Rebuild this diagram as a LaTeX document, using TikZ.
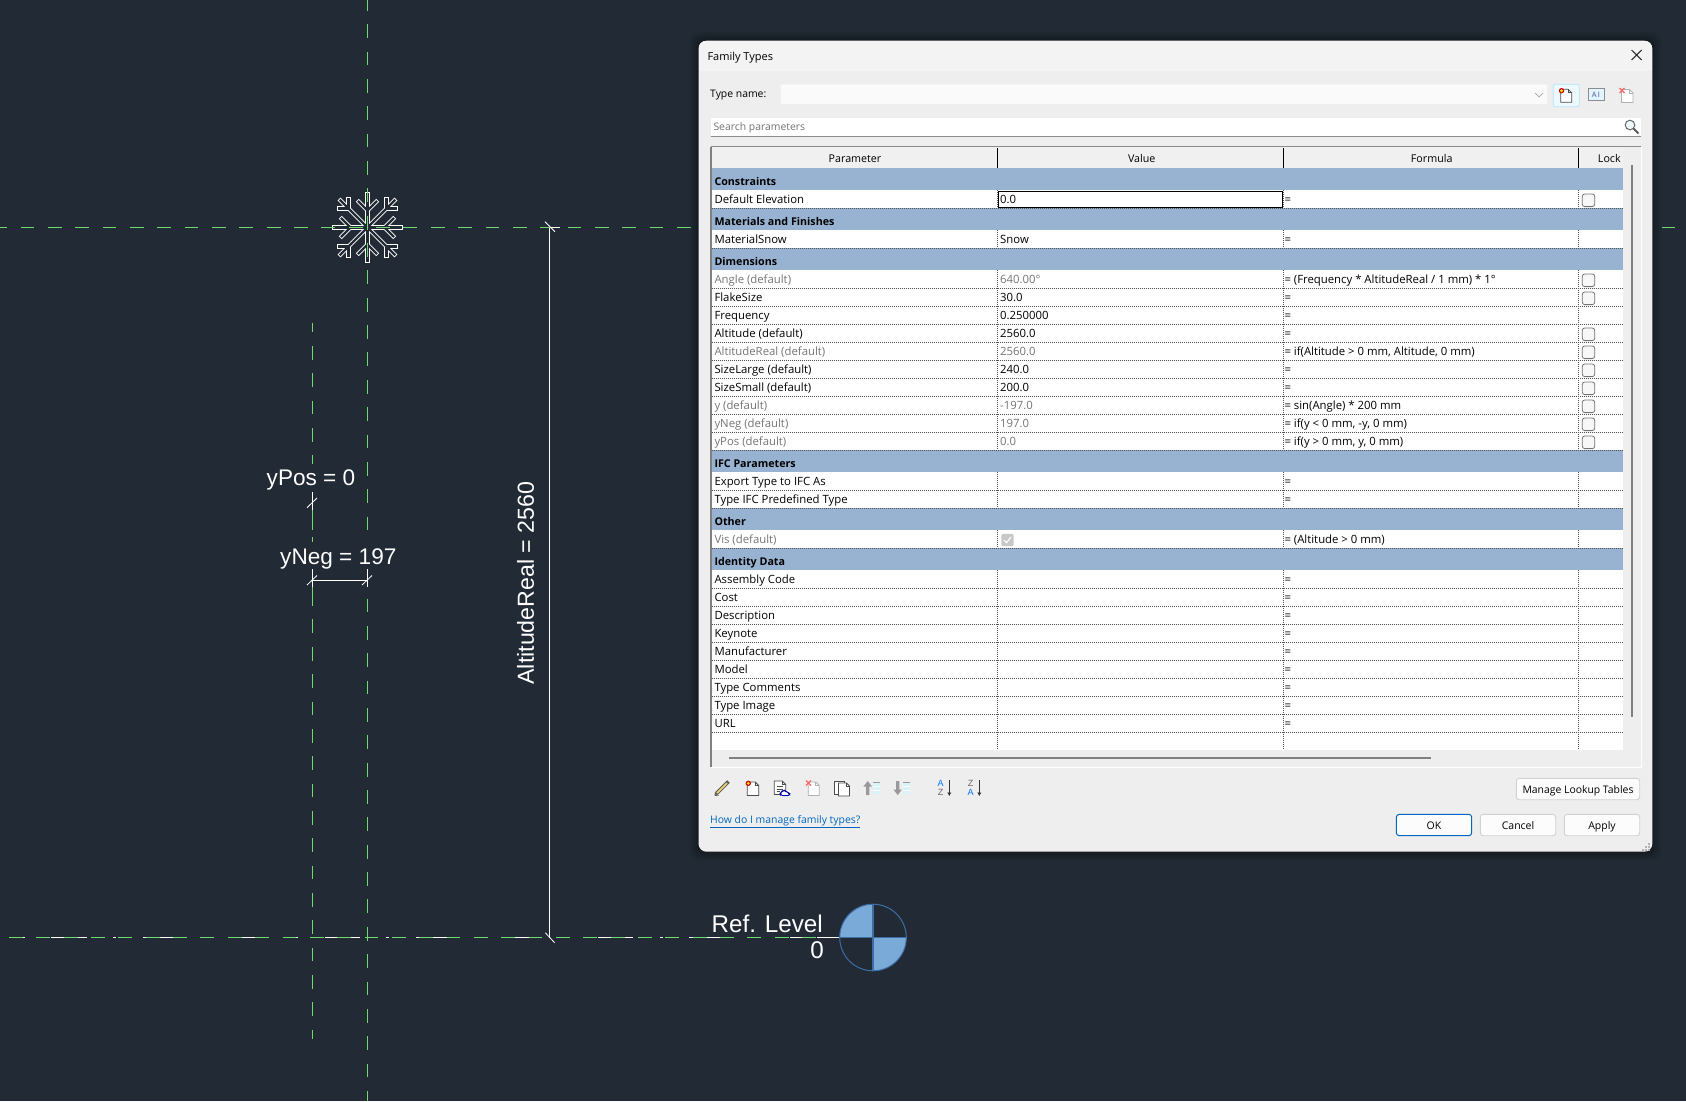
\documentclass[tikz,border=0pt]{standalone}
\usepackage{fontspec}
\usetikzlibrary{arrows.meta}
\newfontfamily\uifont{Open Sans}
\newfontfamily\cadfont{Liberation Sans}
\definecolor{bg}{HTML}{222A35}
\definecolor{cadgreen}{HTML}{6EDB6E}
\definecolor{band}{HTML}{98B3D1}
\definecolor{dlg}{HTML}{EEEEEE}
\definecolor{titlebar}{HTML}{F3F3F3}
\definecolor{headr}{HTML}{F0F0F0}
\definecolor{grayt}{HTML}{757575}
\definecolor{bluel}{HTML}{7AAAD8}
\definecolor{blued}{HTML}{3C6EA5}
\definecolor{linkb}{HTML}{0067C0}
\tikzset{
  ui/.style={inner sep=0pt,anchor=base west,font=\uifont\fontsize{11.35}{14}\selectfont,text=black},
  uis/.style={ui,font=\uifont\fontsize{10.4}{13}\selectfont},
  uib/.style={ui,font=\uifont\bfseries\fontsize{10.7}{14}\selectfont},
  uic/.style={ui,anchor=base,font=\uifont\fontsize{10.7}{13}\selectfont},
  cad/.style={inner sep=0pt,text=white,font=\cadfont\fontsize{22.6}{26}\selectfont},
  gline/.style={cadgreen,line width=1.2pt,dash pattern=on 13.8pt off 13.55pt},
  wline/.style={white,line width=1pt},
  dots/.style={draw=black!68,line width=.8pt,dash pattern=on 1pt off 1pt},
  chk/.style={draw=black!55,fill=black!3,line width=.8pt,rounded corners=2.4pt},
  btn/.style={draw=black!18,fill=black!1,line width=.9pt,rounded corners=3pt},
  flakeo/.style={white,line width=4.2pt,line cap=rect,line join=miter},
  flakei/.style={bg,line width=2.4pt,line cap=rect,line join=miter},
  page/.style={draw=black!70,fill=white,line width=.8pt},
  pagel/.style={draw=black!30,fill=white,line width=.8pt},
}
% row: bottom y, parameter, value, formula, text colour
\newcommand\prow[5]{%
  \pgfmathtruncatemacro\rn{#1}%
  \node[ui,text=#5] (pa\rn) at (714.3,#1-4.8) {#2};
  \node[ui,text=#5] (va\rn) at (1000,#1-4.8) {#3};
  \node[ui] (fo\rn) at (1284.3,#1-4.8) {#4};
}
\newcommand\bandrow[2]{%
  \pgfmathtruncatemacro\rn{#1}%
  \fill[band] (711.5,#1-22) rectangle (1623.3,#1);
  \node[uib] (ba\rn) at (714.3,#1-5.3) {#2};
}
\newcommand\cbox[1]{\draw[chk] (1582.3,#1-14.3) rectangle ++(12.4,12.6);}
\newcommand\burst[2]{\fill[red!80!black] (#1,#2) circle (2.7pt); \fill[yellow!85!orange] (#1,#2) circle (1.6pt);}
\newcommand\pageic[6]{% x y w h style fold
  \draw[#5] (#1,#2) -- ++(#3-#6,0) -- ++(#6,#6) -- (#1+#3,#2+#4) -- (#1,#2+#4) -- cycle;
  \draw[#5,fill=none] (#1+#3-#6,#2) -- ++(0,#6) -- ++(#6,0);
}
\begin{document}
\begin{tikzpicture}[x=1pt,y=-1pt]
\useasboundingbox (0,0) rectangle (1686,1101);
\clip (0,0) rectangle (1686,1101);
\fill[bg] (0,0) rectangle (1686,1101);
% snowflake
\foreach \a in {0,90,180,270}{
  \begin{scope}[shift={(367.5,227.5)},rotate=\a]
    \draw[flakeo] (0,0) -- (33,0);
    \draw[flakeo] (25.7,-8.7) -- (17,0) -- (25.7,8.7);
    \draw[flakeo] (0,0) -- (27,-27);
    \draw[flakeo] (19,-28.5) -- (19,-19) -- (28.5,-19);
  \end{scope}
}
\foreach \a in {0,90,180,270}{
  \begin{scope}[shift={(367.5,227.5)},rotate=\a]
    \draw[flakei] (0,0) -- (33,0);
    \draw[flakei] (25.7,-8.7) -- (17,0) -- (25.7,8.7);
    \draw[flakei] (0,0) -- (27,-27);
    \draw[flakei] (19,-28.5) -- (19,-19) -- (28.5,-19);
  \end{scope}
}
% reference planes
\draw[gline] (367.5,-3.1) -- (367.5,1101);
\draw[gline] (-6.8,227.5) -- (1686,227.5);
\draw[gline,dash phase=4.4pt] (312.5,323) -- (312.5,1039);
% level line, white centre-line pieces then green
\draw[wline] (23,937.5)--(25,937.5) (51,937.5)--(64,937.5) (76.7,937.5)--(87,937.5)
  (113,937.5)--(116,937.5) (143,937.5)--(146,937.5) (160,937.5)--(173,937.5)
  (242,937.5)--(255,937.5) (296,937.5)--(298,937.5) (325,937.5)--(338,937.5)
  (351,937.5)--(360,937.5) (386,937.5)--(389,937.5) (416,937.5)--(420,937.5)
  (433,937.5)--(447,937.5) (515,937.5)--(529,937.5) (598,937.5)--(611,937.5)
  (625,937.5)--(633,937.5) (660,937.5)--(663,937.5) (689,937.5)--(693,937.5)
  (707,937.5)--(721,937.5) (790,937.5)--(803,937.5) (817,937.5)--(840,937.5);
\draw[gline] (9,937.5) -- (817,937.5);
% dimension AltitudeReal
\draw[wline] (549.5,227.5) -- (549.5,937.5) (549.5,227.5) -- (560,227.5);
\draw[white,line width=.8pt] (545,221.7) -- (555,231.7) (545.3,932.7) -- (554.6,942.7);
\coordinate (altmid) at (533.8,583);
\node[cad,rotate=90,anchor=base,font=\cadfont\fontsize{23.2}{26}\selectfont] (altreal) at (altmid) {AltitudeReal = 2560};
% yPos
\fill[bg] (266,464) rectangle (356,491.7);
\node[cad,anchor=base west] (ypos) at (266.5,485.7) {yPos = 0};
\draw[white,line width=.9pt] (312.5,491.7) -- (312.5,510);
\draw[cadgreen,line width=1.2pt] (312.5,510) -- (312.5,530);
\draw[white,line width=.8pt] (307,507.7) -- (317,498);
% yNeg
\fill[bg] (278,541.7) rectangle (397,569.3);
\node[cad,anchor=base west] (yneg) at (280,564.3) {yNeg = 197};
\draw[white,line width=.9pt] (312.5,569.3) -- (312.5,587) (367.5,569.3) -- (367.5,587);
\draw[cadgreen,line width=1.2pt] (312.5,587) -- (312.5,606);
\draw[wline] (312.5,580.5) -- (367.5,580.5);
\draw[white,line width=.8pt] (307,585) -- (317,575.5) (362,585) -- (372,575.5);
% level symbol
\node[cad,anchor=base east,font=\cadfont\fontsize{24.2}{28}\selectfont] (reflev) at (823,932.7) {Ref. Level};
\node[cad,anchor=base east,font=\cadfont\fontsize{24.2}{28}\selectfont] (reflev0) at (824,958.3) {0};
\fill[bluel] (873,937.5) -- (839.7,937.5) arc[start angle=180,end angle=270,radius=33.3] -- cycle;
\fill[bluel] (873,937.5) -- (906.3,937.5) arc[start angle=0,end angle=90,radius=33.3] -- cycle;
\draw[blued,line width=1pt] (873,937.5) circle (33.3pt);
\draw[blued,line width=1.4pt] (839.7,937.5) -- (906.3,937.5) (873,904.2) -- (873,970.8);
% dialog shadow
\foreach \e in {9,7,5,3,1}{
  \fill[black,opacity=.07,rounded corners=9pt] (698.5-\e,40.7-\e) rectangle (1652.3+\e,851.7+\e);
}
% dialog
\fill[dlg,rounded corners=8pt] (698.5,40.7) rectangle (1652.3,851.7);
\begin{scope}
  \clip[rounded corners=8pt] (698.5,40.7) rectangle (1652.3,851.7);
  \fill[titlebar] (698.5,40.7) rectangle (1652.3,70.7);
\end{scope}
\node[ui,font=\uifont\fontsize{11}{13}\selectfont] (title) at (707.3,60) {Family Types};
\draw[black!85,line width=1pt] (1631.5,50) -- (1641.7,60) (1641.7,50) -- (1631.5,60);
% type name
\node[uis] (tname) at (710,97.7) {Type name:};
\fill[black!2,rounded corners=2pt] (780.7,84.3) rectangle (1547.3,104);
\draw[black!35,line width=.7pt] (1535,93) -- (1539,97) -- (1543,93);
\draw[draw=cyan!30,fill=cyan!7,rounded corners=2pt,line width=.8pt] (1553.3,84.3) rectangle (1579.3,106.7);
\pageic{1560.7}{89.3}{11}{13}{page}{3.5}
\burst{1561.5}{90.7}
\draw[black!45,fill=cyan!12,line width=.8pt] (1588.3,88.3) rectangle (1604,100.7);
\node[ui,font=\uifont\fontsize{7.5}{9}\selectfont,text=blue!45!black!70,anchor=center] (ai) at (1596,94.7) {A\,I};
\pageic{1621.5}{89.5}{11.5}{13}{pagel}{3.5}
\draw[red!60!white,line width=1.3pt] (1619.5,88) -- (1624.5,93) (1624.5,88) -- (1619.5,93);
% search
\fill[white] (710.7,117.7) rectangle (1640.7,136.7);
\draw[black!45,line width=.8pt] (710.7,136.7) -- (1640.7,136.7);
\node[uis,text=black!55] (search) at (713.3,130) {Search parameters};
\draw[black!60,fill=cyan!6,line width=1pt] (1630,125) circle (4.8pt);
\draw[black!65,line width=2pt] (1633.6,128.6) -- (1638.4,133.4);
% table frame
\draw[black!45,line width=1.2pt] (710.7,146.7) -- (1640.7,146.7);
\draw[black!50,line width=1.2pt] (711,146.7) -- (711,767);
\draw[white,line width=1pt] (711,767) -- (1641,767) -- (1641,147);
\fill[headr] (711.6,147.4) rectangle (1623.3,168);
\fill[white] (711.6,168) rectangle (1623.3,750);
\draw[black,line width=1pt] (711.6,168.3) -- (1623.3,168.3);
\draw[black,line width=1pt] (997.3,147.5) -- (997.3,168) (1283.3,147.5) -- (1283.3,168) (1578.3,147.5) -- (1578.3,168);
\node[uic] (h1) at (855,162) {Parameter};
\node[uic] (h2) at (1141.7,162) {Value};
\node[uic] (h3) at (1431.7,162) {Formula};
\node[uic] (h4) at (1609.3,162) {Lock};
% bands
\bandrow{190.3}{Constraints}
\bandrow{230.3}{Materials and Finishes}
\bandrow{270.3}{Dimensions}
\bandrow{472.3}{IFC Parameters}
\bandrow{530.3}{Other}
\bandrow{570.3}{Identity Data}
% grid
\foreach \yy in {208.3,248.3,288.3,306.3,324.3,342.3,360.3,378.3,396.3,414.3,432.3,450.3,490.3,508.3,548.3,588.3,606.3,624.3,642.3,660.3,678.3,696.3,714.3,732.3}{
  \draw[dots] (711.6,\yy) -- (1623.3,\yy);
}
\foreach \xx in {997.3,1283.3,1578.3}{
  \foreach \ya/\yb in {190.3/208.3,230.3/248.3,270.3/450.3,472.3/508.3,530.3/548.3,570.3/750}{
    \draw[dots] (\xx,\ya) -- (\xx,\yb);
  }
}
\draw[black,line width=1.2pt] (998.3,191.3) rectangle (1282.7,207.7);
% rows
\prow{208.3}{Default Elevation}{0.0}{=}{black}
\prow{248.3}{MaterialSnow}{Snow}{=}{black}
\prow{288.3}{Angle (default)}{640.00°}{= (Frequency * AltitudeReal / 1 mm) * 1°}{grayt}
\prow{306.3}{FlakeSize}{30.0}{=}{black}
\prow{324.3}{Frequency}{0.250000}{=}{black}
\prow{342.3}{Altitude (default)}{2560.0}{=}{black}
\prow{360.3}{AltitudeReal (default)}{2560.0}{= if(Altitude > 0 mm, Altitude, 0 mm)}{grayt}
\prow{378.3}{SizeLarge (default)}{240.0}{=}{black}
\prow{396.3}{SizeSmall (default)}{200.0}{=}{black}
\prow{414.3}{y (default)}{-197.0}{= sin(Angle) * 200 mm}{grayt}
\prow{432.3}{yNeg (default)}{197.0}{= if(y < 0 mm, -y, 0 mm)}{grayt}
\prow{450.3}{yPos (default)}{0.0}{= if(y > 0 mm, y, 0 mm)}{grayt}
\prow{490.3}{Export Type to IFC As}{}{=}{black}
\prow{508.3}{Type IFC Predefined Type}{}{=}{black}
\prow{548.3}{Vis (default)}{}{= (Altitude > 0 mm)}{grayt}
\prow{588.3}{Assembly Code}{}{=}{black}
\prow{606.3}{Cost}{}{=}{black}
\prow{624.3}{Description}{}{=}{black}
\prow{642.3}{Keynote}{}{=}{black}
\prow{660.3}{Manufacturer}{}{=}{black}
\prow{678.3}{Model}{}{=}{black}
\prow{696.3}{Type Comments}{}{=}{black}
\prow{714.3}{Type Image}{}{=}{black}
\prow{732.3}{URL}{}{=}{black}
\foreach \yy in {208.3,288.3,306.3,342.3,360.3,378.3,396.3,414.3,432.3,450.3}{\cbox{\yy}}
\fill[black!22,rounded corners=2pt] (1001.3,533.8) rectangle (1013.7,546.2);
\draw[white,line width=1.1pt] (1004,540) -- (1006.5,542.8) -- (1011,537);
% scrollbars
\draw[black!50,line width=2.2pt] (1632,165) -- (1632,716.7);
\draw[black!50,line width=2.2pt] (729,757.7) -- (1430.7,757.7);
% bottom toolbar
\draw[black!65,line width=3.6pt] (716.5,793.5) -- (728.5,781.5);
\draw[yellow!50!brown!70,line width=1.8pt] (717,793) -- (727,783);
\fill[black!60] (714.5,796) -- (715,791.5) -- (719,795.5) -- cycle;
\pageic{747.3}{782}{11.4}{13.5}{page}{3.5}
\burst{748.3}{783.3}
\pageic{774.3}{781}{11.5}{13.5}{page}{3.5}
\draw[black!70,line width=.8pt] (776.5,786.5) -- (782.5,786.5) (776.5,789) -- (782.5,789) (776.5,791.5) -- (780,791.5);
\fill[white] (779.5,789.5) rectangle (790.5,796.5);
\draw[blue!65!black,line width=.9pt,rounded corners=1.6pt] (781,795.6) -- (780,793.5) -- (781.5,792.3) -- (782.5,790.5) -- (785.5,790.5) -- (787,792.5) -- (789.6,793) -- (789.8,795.6) -- cycle;
\pageic{808.3}{782}{11}{13.5}{pagel}{3.5}
\draw[red!60!white,line width=1.3pt] (806,780.5) -- (811,785.5) (811,780.5) -- (806,785.5);
\pageic{834.5}{781}{10}{13}{page}{0}
\pageic{838.5}{783}{11}{13}{page}{3}
\fill[black!40] (867.7,781) -- (872,786.5) -- (869.3,786.5) -- (869.3,795) -- (866.1,795) -- (866.1,786.5) -- (863.4,786.5) -- cycle;
\fill[cyan!15] (873,782) rectangle (880,794);
\draw[white,line width=.9pt] (873,786) -- (880,786) (873,790) -- (880,790);
\draw[black!40,line width=.7pt] (873,782) -- (880,782);
\fill[black!40] (897.7,795) -- (902,789.5) -- (899.3,789.5) -- (899.3,781) -- (896.1,781) -- (896.1,789.5) -- (893.4,789.5) -- cycle;
\fill[cyan!15] (903,782) rectangle (910,794);
\draw[white,line width=.9pt] (903,786) -- (910,786) (903,790) -- (910,790);
\draw[black!40,line width=.7pt] (903,782) -- (910,782);
\tikzset{sortl/.style={inner sep=0pt,anchor=center,font=\cadfont\fontsize{9}{9}\selectfont}}
\node[sortl,text=blue!55!cyan] (az1) at (940.7,783.8) {A};
\node[sortl,text=black!60] (az2) at (940.7,792.5) {Z};
\draw[black!80,line width=1pt,-{Latex[length=3.5pt,width=4.5pt]}] (949.3,780) -- (949.3,796);
\node[sortl,text=black!60] (za1) at (970.7,783.8) {Z};
\node[sortl,text=blue!55!cyan] (za2) at (970.7,792.5) {A};
\draw[black!80,line width=1pt,-{Latex[length=3.5pt,width=4.5pt]}] (979.3,780) -- (979.3,796);
% link and buttons
\node[uis,text=linkb] (link) at (710,823) {\underline{How do I manage family types?}};
\draw[btn] (1516.3,778.3) rectangle (1639.7,799.7);
\node[uic,font=\uifont\fontsize{10.4}{13}\selectfont] (mlt) at (1578,793) {Manage Lookup Tables};
\draw[btn,draw=linkb,line width=1pt] (1396.3,814.3) rectangle (1471.7,835.7);
\node[uic,font=\uifont\fontsize{10.5}{13}\selectfont] (okb) at (1434,829) {OK};
\draw[btn] (1480.3,814.3) rectangle (1555.7,835.7);
\node[uic,font=\uifont\fontsize{10.5}{13}\selectfont] (cancelb) at (1518,829) {Cancel};
\draw[btn] (1564.3,814.3) rectangle (1639.7,835.7);
\node[uic,font=\uifont\fontsize{10.5}{13}\selectfont] (applyb) at (1602,829) {Apply};
\foreach \px/\py in {1648/843,1648/846,1648/849,1645/846,1645/849,1642/849}{
  \fill[black!30] (\px,\py) rectangle ++(1.6,1.6);
}
\end{tikzpicture}
\end{document}
